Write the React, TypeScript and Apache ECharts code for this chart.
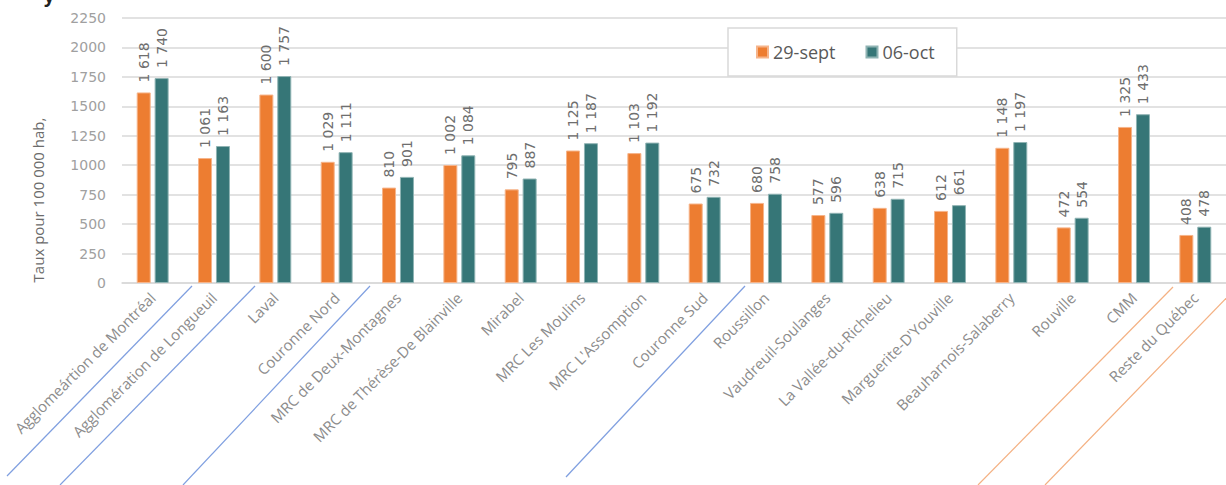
import React, { useEffect, useRef } from "react";
import * as echarts from "echarts";

const categories = [
  "Agglomeártion de Montréal",
  "Agglomération de Longueuil",
  "Laval",
  "Couronne Nord",
  "MRC de Deux-Montagnes",
  "MRC de Thérèse-De Blainville",
  "Mirabel",
  "MRC Les Moulins",
  "MRC L'Assomption",
  "Couronne Sud",
  "Roussillon",
  "Vaudreuil-Soulanges",
  "La Vallée-du-Richelieu",
  "Marguerite-D'Youville",
  "Beauharnois-Salaberry",
  "Rouville",
  "CMM",
  "Reste du Québec",
];

const sept29 = [1618, 1061, 1600, 1029, 810, 1002, 795, 1125, 1103, 675, 680, 577, 638, 612, 1148, 472, 1325, 408];
const oct06 = [1740, 1163, 1757, 1111, 901, 1084, 887, 1187, 1192, 732, 758, 596, 715, 661, 1197, 554, 1433, 478];

const seriesNames = ["29-sept", "06-oct"];
const yTitle = "Taux pour 100 000 hab,";

const fmt = (v: number) => {
  const s = String(Math.round(v));
  return s.replace(/\B(?=(\d{3})+(?!\d))/g, " ");
};

export default function App() {
  const ref = useRef<HTMLDivElement>(null);
  useEffect(() => {
    document.body.style.margin = "0";
    if (!ref.current) return;
    const chart = echarts.init(ref.current, undefined, { renderer: "svg" });
    const font = "'Open Sans', sans-serif";
    const numFont = "'DejaVu Sans', sans-serif";
    const label = {
      show: true,
      position: "top",
      rotate: 90,
      align: "left",
      verticalAlign: "middle",
      distance: 10,
      color: "#6e6e6e",
      fontSize: 14,
      fontFamily: numFont,
      formatter: (p: any) => fmt(p.value),
    };
    const blue = "#7f9fe0";
    const orangeLine = "#f4b183";
    const lines: [number, number, number, number, string][] = [
      [192, 286, 7, 476, blue],
      [255, 286, 60, 485, blue],
      [370, 286, 183, 485, blue],
      [745, 286, 566, 477, blue],
      [1173, 287, 978, 485, orangeLine],
      [1237, 287, 1045, 485, orangeLine],
    ];
    chart.setOption({
      animation: false,
      backgroundColor: "#ffffff",
      textStyle: { fontFamily: font },
      legend: {
        left: 728,
        top: 28,
        itemWidth: 11,
        itemHeight: 11,
        itemGap: 30,
        padding: [15, 22, 15, 28],
        borderColor: "#d9d9d9",
        borderWidth: 1.5,
        backgroundColor: "#ffffff",
        icon: "rect",
        textStyle: { fontSize: 18, color: "#595959", fontFamily: font },
        data: seriesNames,
      },
      grid: { left: 122, top: 18, width: 1110, bottom: 202 },
      xAxis: {
        type: "category",
        data: categories,
        axisLine: { lineStyle: { color: "#d9d9d9", width: 1.5 } },
        axisTick: { show: false },
        axisLabel: {
          interval: 0,
          rotate: 45,
          margin: 12,
          fontSize: 15,
          color: "#8c8c8c",
          fontFamily: font,
        },
      },
      yAxis: {
        type: "value",
        min: 0,
        max: 2250,
        interval: 250,
        axisLine: { show: false },
        axisTick: { show: false },
        splitLine: { lineStyle: { color: "#d9d9d9", width: 1.5 } },
        axisLabel: {
          margin: 16,
          fontSize: 14,
          color: "#a0a0a0",
          fontFamily: numFont,
          formatter: (v: number) => String(v),
        },
      },
      series: [
        {
          name: seriesNames[0],
          type: "bar",
          data: sept29,
          barWidth: 14,
          barGap: "28%",
          itemStyle: { color: "#ed7d31", borderColor: "#f6b48a", borderWidth: 1 },
          label,
        },
        {
          name: seriesNames[1],
          type: "bar",
          data: oct06,
          barWidth: 14,
          itemStyle: { color: "#367677", borderColor: "#8fb3b3", borderWidth: 1 },
          label,
        },
      ],
      graphic: [
        {
          type: "text",
          x: 38,
          y: 200,
          rotation: Math.PI / 2,
          style: {
            text: yTitle,
            fill: "#6b6b6b",
            fontSize: 15,
            fontFamily: font,
            align: "center",
            verticalAlign: "middle",
          },
        },
        {
          type: "text",
          x: 44,
          y: -13,
          style: { text: "y", fill: "#222", fontSize: 18, fontWeight: "bold", fontFamily: font },
        },
        ...lines.map(([x1, y1, x2, y2, c]) => ({
          type: "line",
          shape: { x1, y1, x2, y2 },
          style: { stroke: c, lineWidth: 1.2 },
          silent: true,
        })),
      ],
    });
    return () => chart.dispose();
  }, []);
  return <div ref={ref} style={{ width: 1226, height: 485 }} />;
}
